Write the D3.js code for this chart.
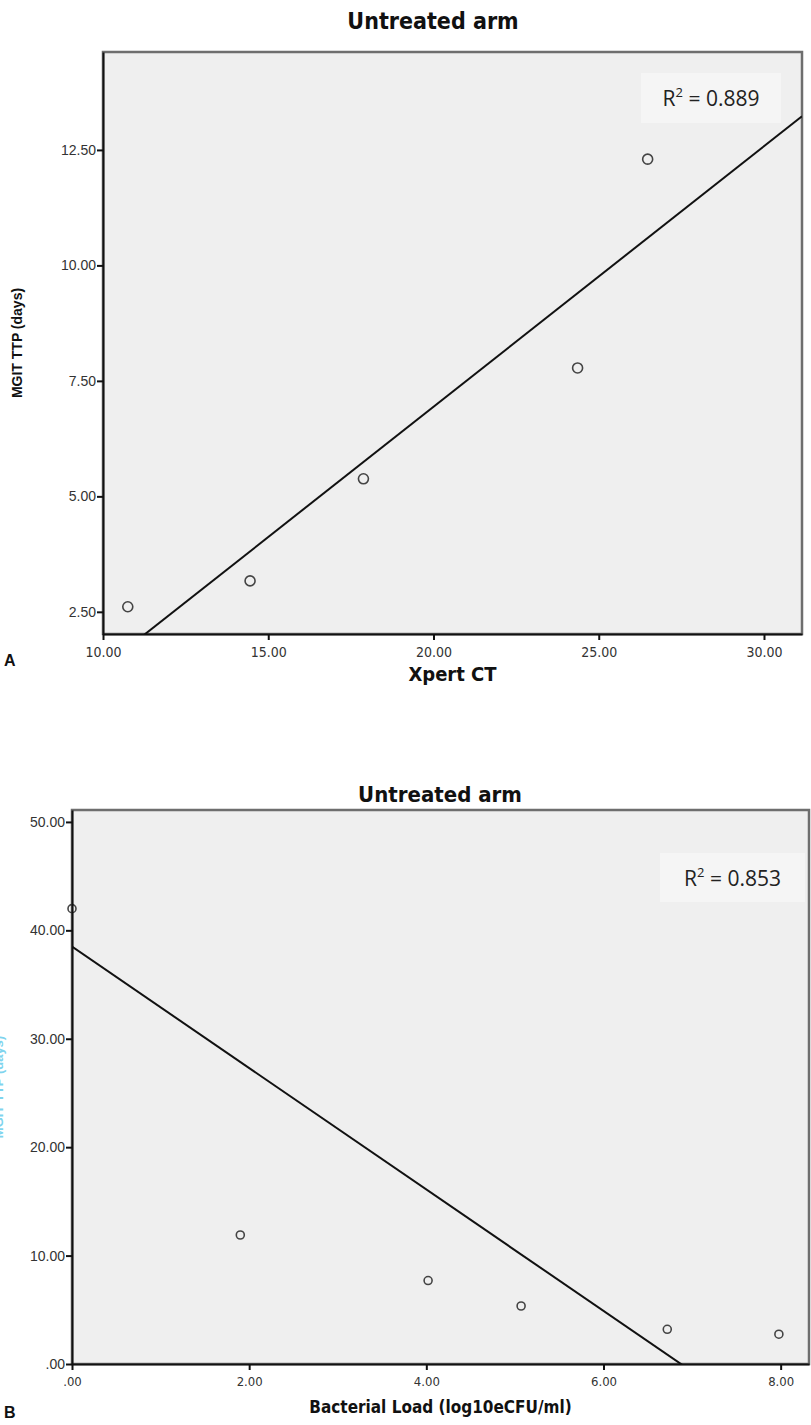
<!DOCTYPE html>
<html>
<head>
<meta charset="utf-8">
<script src="https://cdn.jsdelivr.net/npm/d3@7"></script>
<style>
  body { margin: 0; background: #fff; }
  svg { display: block; }
  .tick text { fill: #333; }
</style>
</head>
<body>
<svg width="811" height="1425"></svg>
<script>
// panel A: Xpert CT vs MGIT time to positivity
var xpertCT = [10.75, 14.45, 17.88, 24.36, 26.48];
var ttpA    = [2.61, 3.17, 5.38, 7.78, 12.30];
var fitA    = [-4.34, 0.564];          // intercept, slope
var xTicksA = [10, 15, 20, 25, 30];
var yTicksA = [2.5, 5, 7.5, 10, 12.5];
var r2A     = "0.889";

// panel B: bacterial load vs MGIT time to positivity
var bacterialLoad = [0, 1.90, 4.02, 5.07, 6.72, 7.98];
var ttpB    = [42.0, 11.9, 7.7, 5.35, 3.2, 2.75];
var fitB    = [38.5, -5.6];           // intercept, slope
var xTicksB = [0, 2, 4, 6, 8];
var yTicksB = [0, 10, 20, 30, 40, 50];
var r2B     = "0.853";

var svg = d3.select("svg");
var narrow = "'Liberation Sans Narrow', 'DejaVu Sans Condensed', Arial, sans-serif";
var plain = "'Liberation Sans', Arial, sans-serif";

function panel(o) {
  var x = d3.scaleLinear().domain(o.xDomain).range([o.left, o.right]);
  var y = d3.scaleLinear().domain(o.yDomain).range([o.bottom, o.top]);
  var g = svg.append("g");

  g.append("rect")
    .attr("x", o.left).attr("y", o.top)
    .attr("width", o.right - o.left).attr("height", o.bottom - o.top)
    .attr("fill", "#efefef")
    .attr("stroke", "#6e6e6e").attr("stroke-width", 2.5);

  var clipId = "clip" + o.id;
  g.append("clipPath").attr("id", clipId)
    .append("rect")
    .attr("x", o.left).attr("y", o.top)
    .attr("width", o.right - o.left).attr("height", o.bottom - o.top);

  // R-squared box
  g.append("rect")
    .attr("x", o.r2Box[0]).attr("y", o.r2Box[1])
    .attr("width", o.r2Box[2]).attr("height", o.r2Box[3])
    .attr("fill", "#f5f5f5");
  var t = g.append("text")
    .attr("x", o.r2Box[0] + o.r2Box[2] / 2)
    .attr("y", o.r2Box[1] + o.r2Box[3] / 2 + 8)
    .attr("text-anchor", "middle")
    .style("font-family", "'Open Sans', 'Noto Sans', sans-serif")
    .style("font-size", "21px")
    .attr("fill", "#222");
  t.append("tspan").text("R");
  t.append("tspan").attr("dy", -9).style("font-size", "13px").text("2");
  t.append("tspan").attr("dy", 9).text(" = " + o.r2);

  // fit line
  var xd = x.domain();
  var fit = xd.map(function(v) { return [v, o.fit[0] + o.fit[1] * v]; });
  g.append("path")
    .attr("clip-path", "url(#" + clipId + ")")
    .attr("d", d3.line().x(function(d) { return x(d[0]); }).y(function(d) { return y(d[1]); })(fit))
    .attr("fill", "none").attr("stroke", "#111").attr("stroke-width", 2);

  // points
  g.selectAll("circle.pt")
    .data(o.xs.map(function(v, i) { return [v, o.ys[i]]; }))
    .enter().append("circle")
      .attr("class", "pt")
      .attr("cx", function(d) { return x(d[0]); })
      .attr("cy", function(d) { return y(d[1]); })
      .attr("r", o.ptR)
      .attr("fill", "none").attr("stroke", "#444").attr("stroke-width", 1.6);

  // axes
  var ax = g.append("g").attr("transform", "translate(0," + o.bottom + ")")
    .call(d3.axisBottom(x).tickValues(o.xTicks).tickFormat(o.fmt).tickSize(6).tickSizeOuter(0));
  var ay = g.append("g").attr("transform", "translate(" + o.left + ",0)")
    .call(d3.axisLeft(y).tickValues(o.yTicks).tickFormat(o.fmt).tickSize(6).tickSizeOuter(0));
  [ax, ay].forEach(function(a) {
    a.select(".domain").attr("stroke", "#111").attr("stroke-width", 2);
    a.selectAll(".tick line").attr("stroke", "#111").attr("stroke-width", 2);
  });
  ax.selectAll("text").style("font-family", narrow).style("font-size", o.xTickFont + "px").attr("dy", "1em");
  ay.selectAll("text").style("font-family", plain).style("font-size", o.yTickFont + "px").attr("x", -7);

  var cx = (o.left + o.right) / 2;
  svg.append("text").attr("x", o.titleX).attr("y", o.titleY)
    .attr("text-anchor", "middle")
    .style("font-family", narrow).style("font-weight", "bold").style("font-size", o.titleFont + "px")
    .attr("fill", "#111").text("Untreated arm");
  svg.append("text").attr("x", cx).attr("y", o.xLabelY)
    .attr("text-anchor", "middle")
    .style("font-family", narrow).style("font-weight", "bold").style("font-size", o.xLabelFont + "px")
    .attr("fill", "#111").text(o.xLabel);
  svg.append("text").attr("x", 4).attr("y", o.letterY)
    .style("font-family", plain).style("font-weight", "bold").style("font-size", "16px")
    .attr("fill", "#111").text(o.letter);
  svg.append("text")
    .attr("transform", "translate(" + o.yLabelX + "," + (o.top + o.bottom) / 2 + ") rotate(-90)")
    .attr("text-anchor", "middle")
    .style("font-family", plain).style("font-weight", "bold").style("font-size", o.yLabelFont + "px")
    .attr("fill", o.yLabelColor).text("MGIT TTP (days)");
}

panel({
  id: "A", left: 103, right: 802, top: 52, bottom: 634,
  xDomain: [10, 31.15], yDomain: [2.02, 14.62],
  xs: xpertCT, ys: ttpA, fit: fitA, xTicks: xTicksA, yTicks: yTicksA,
  fmt: d3.format(".2f"), xTickFont: 14, yTickFont: 14, ptR: 5,
  r2: r2A, r2Box: [641, 73, 140, 50],
  titleX: 433, titleY: 29, titleFont: 23, xLabel: "Xpert CT", xLabelY: 681, xLabelFont: 20,
  letter: "A", letterY: 666, yLabelX: 22, yLabelFont: 14, yLabelColor: "#111"
});

panel({
  id: "B", left: 72, right: 809, top: 810, bottom: 1364,
  xDomain: [0, 8.32], yDomain: [0, 51.1],
  xs: bacterialLoad, ys: ttpB, fit: fitB, xTicks: xTicksB, yTicks: yTicksB,
  fmt: function(d) { return d3.format(".2f")(d).replace(/^0\./, "."); }, xTickFont: 13, yTickFont: 14, ptR: 4,
  r2: r2B, r2Box: [660, 853, 145, 49],
  titleX: 440, titleY: 802, titleFont: 22, xLabel: "Bacterial Load (log10eCFU/ml)", xLabelY: 1413, xLabelFont: 17,
  letter: "B", letterY: 1418, yLabelX: 3, yLabelFont: 13, yLabelColor: "#7fd4ee"
});
</script>
</body>
</html>
